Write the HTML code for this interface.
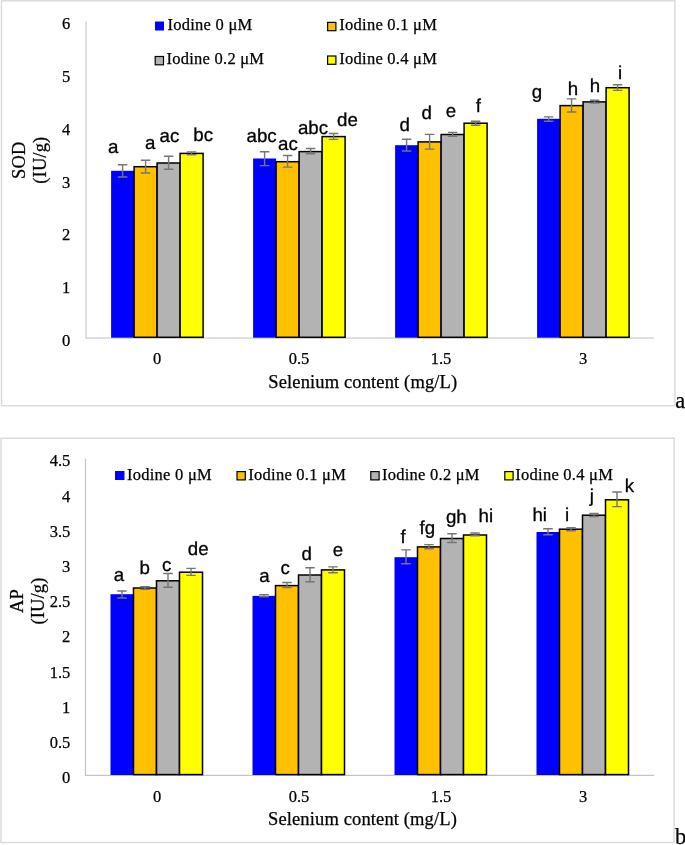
<!DOCTYPE html>
<html><head><meta charset="utf-8"><style>
html,body{margin:0;padding:0;background:#fff;width:685px;height:845px;overflow:hidden}
svg{display:block;will-change:transform}
.tk{font-family:"Liberation Serif", serif;font-size:16.5px;fill:#000;stroke:#000;stroke-width:0.25px}
.lg{font-family:"Liberation Serif", serif;font-size:16.5px;fill:#000;letter-spacing:0.25px;stroke:#000;stroke-width:0.25px}
.ti{font-family:"Liberation Serif", serif;font-size:18.5px;fill:#000;letter-spacing:0.13px;stroke:#000;stroke-width:0.25px}
.cl{font-family:"Liberation Serif", serif;font-size:22.5px;fill:#000;stroke:#000;stroke-width:0.25px}
.lb{font-family:"Liberation Sans", sans-serif;font-size:18.7px;fill:#000;stroke:#000;stroke-width:0.3px;text-rendering:geometricPrecision}
</style></head><body>
<svg width="685" height="845" viewBox="0 0 685 845">
<rect x="1.5" y="0.8" width="673.4" height="404.9" fill="#fff" stroke="#d9d9d9" stroke-width="1.4"/>
<rect x="1.0" y="438.2" width="673.1" height="404.3" fill="#fff" stroke="#d9d9d9" stroke-width="1.4"/>
<path d="M86.1 21.5V338.2H654" stroke="#dcdcdc" stroke-width="1.8" fill="none"/>
<text x="70.3" y="346.1" text-anchor="end" class="tk">0</text>
<text x="70.3" y="293.3" text-anchor="end" class="tk">1</text>
<text x="70.3" y="240.4" text-anchor="end" class="tk">2</text>
<text x="70.3" y="187.6" text-anchor="end" class="tk">3</text>
<text x="70.3" y="134.8" text-anchor="end" class="tk">4</text>
<text x="70.3" y="82.0" text-anchor="end" class="tk">5</text>
<text x="70.3" y="29.1" text-anchor="end" class="tk">6</text>
<text x="157" y="363.6" text-anchor="middle" class="tk">0</text>
<text x="299" y="363.6" text-anchor="middle" class="tk">0.5</text>
<text x="441" y="363.6" text-anchor="middle" class="tk">1.5</text>
<text x="583" y="363.6" text-anchor="middle" class="tk">3</text>
<rect x="111.10" y="170.8" width="23" height="166.90" fill="#0000ff"/>
<rect x="134.10" y="166.7" width="23" height="170.60" fill="#ffc000" stroke="#000" stroke-width="1.5"/>
<rect x="157.10" y="163.0" width="23" height="174.30" fill="#b3b3b3" stroke="#000" stroke-width="1.5"/>
<rect x="180.10" y="153.4" width="23" height="183.90" fill="#ffff00" stroke="#000" stroke-width="1.5"/>
<rect x="253.10" y="158.5" width="23" height="179.20" fill="#0000ff"/>
<rect x="276.10" y="161.7" width="23" height="175.60" fill="#ffc000" stroke="#000" stroke-width="1.5"/>
<rect x="299.10" y="151.6" width="23" height="185.70" fill="#b3b3b3" stroke="#000" stroke-width="1.5"/>
<rect x="322.10" y="136.6" width="23" height="200.70" fill="#ffff00" stroke="#000" stroke-width="1.5"/>
<rect x="395.10" y="145.2" width="23" height="192.50" fill="#0000ff"/>
<rect x="418.10" y="141.9" width="23" height="195.40" fill="#ffc000" stroke="#000" stroke-width="1.5"/>
<rect x="441.10" y="134.5" width="23" height="202.80" fill="#b3b3b3" stroke="#000" stroke-width="1.5"/>
<rect x="464.10" y="123.2" width="23" height="214.10" fill="#ffff00" stroke="#000" stroke-width="1.5"/>
<rect x="537.10" y="118.8" width="23" height="218.90" fill="#0000ff"/>
<rect x="560.10" y="105.6" width="23" height="231.70" fill="#ffc000" stroke="#000" stroke-width="1.5"/>
<rect x="583.10" y="101.9" width="23" height="235.40" fill="#b3b3b3" stroke="#000" stroke-width="1.5"/>
<rect x="606.10" y="87.7" width="23" height="249.60" fill="#ffff00" stroke="#000" stroke-width="1.5"/>
<path d="M122.60 164.7V177.0M117.85 164.7H127.35M117.85 177.0H127.35" stroke="#767676" stroke-width="1.4" fill="none"/>
<path d="M145.60 160.25V173.0M140.85 160.25H150.35M140.85 173.0H150.35" stroke="#767676" stroke-width="1.4" fill="none"/>
<path d="M168.60 156.3V169.2M163.85 156.3H173.35M163.85 169.2H173.35" stroke="#767676" stroke-width="1.4" fill="none"/>
<path d="M191.60 151.9V154.8M186.85 151.9H196.35M186.85 154.8H196.35" stroke="#767676" stroke-width="1.4" fill="none"/>
<path d="M264.60 151.7V165.6M259.85 151.7H269.35M259.85 165.6H269.35" stroke="#767676" stroke-width="1.4" fill="none"/>
<path d="M287.60 155.5V167.1M282.85 155.5H292.35M282.85 167.1H292.35" stroke="#767676" stroke-width="1.4" fill="none"/>
<path d="M310.60 148.5V153.8M305.85 148.5H315.35M305.85 153.8H315.35" stroke="#767676" stroke-width="1.4" fill="none"/>
<path d="M333.60 133.5V139.4M328.85 133.5H338.35M328.85 139.4H338.35" stroke="#767676" stroke-width="1.4" fill="none"/>
<path d="M406.60 139.3V151.0M401.85 139.3H411.35M401.85 151.0H411.35" stroke="#767676" stroke-width="1.4" fill="none"/>
<path d="M429.60 134.4V149.1M424.85 134.4H434.35M424.85 149.1H434.35" stroke="#767676" stroke-width="1.4" fill="none"/>
<path d="M452.60 132.4V136.2M447.85 132.4H457.35M447.85 136.2H457.35" stroke="#767676" stroke-width="1.4" fill="none"/>
<path d="M475.60 121.3V125.3M470.85 121.3H480.35M470.85 125.3H480.35" stroke="#767676" stroke-width="1.4" fill="none"/>
<path d="M548.60 116.9V121.2M543.85 116.9H553.35M543.85 121.2H553.35" stroke="#767676" stroke-width="1.4" fill="none"/>
<path d="M571.60 98.9V112.0M566.85 98.9H576.35M566.85 112.0H576.35" stroke="#767676" stroke-width="1.4" fill="none"/>
<path d="M594.60 100.3V103.1M589.85 100.3H599.35M589.85 103.1H599.35" stroke="#767676" stroke-width="1.4" fill="none"/>
<path d="M617.60 84.8V90.4M612.85 84.8H622.35M612.85 90.4H622.35" stroke="#767676" stroke-width="1.4" fill="none"/>
<text transform="translate(113.2 152.7)" text-anchor="middle" class="lb">a</text>
<text transform="translate(150.2 148.7)" text-anchor="middle" class="lb">a</text>
<text transform="translate(169.4 141.5)" text-anchor="middle" class="lb">ac</text>
<text transform="translate(203.2 140.7)" text-anchor="middle" class="lb">bc</text>
<text transform="translate(261.6 142.2)" text-anchor="middle" class="lb">abc</text>
<text transform="translate(287.9 149.6)" text-anchor="middle" class="lb">ac</text>
<text transform="translate(313.0 134.3)" text-anchor="middle" class="lb">abc</text>
<text transform="translate(347.5 126.0)" text-anchor="middle" class="lb">de</text>
<text transform="translate(404.6 130.7)" text-anchor="middle" class="lb">d</text>
<text transform="translate(426.6 118.9)" text-anchor="middle" class="lb">d</text>
<text transform="translate(450.9 116.5)" text-anchor="middle" class="lb">e</text>
<text transform="translate(478.3 111.7)" text-anchor="middle" class="lb">f</text>
<text transform="translate(537.0 98.0)" text-anchor="middle" class="lb">g</text>
<text transform="translate(573.0 94.7)" text-anchor="middle" class="lb">h</text>
<text transform="translate(595.0 91.7)" text-anchor="middle" class="lb">h</text>
<text transform="translate(620.0 78.6)" text-anchor="middle" class="lb">i</text>
<text x="362.8" y="387.8" text-anchor="middle" class="ti">Selenium content (mg/L)</text>
<text transform="translate(25.2 160.2) rotate(-90)" text-anchor="middle" class="ti">SOD</text>
<text transform="translate(45.6 160.2) rotate(-90)" text-anchor="middle" class="ti">(IU/g)</text>
<rect x="155" y="21.5" width="9" height="9" fill="#0000ff"/>
<text x="167.5" y="30" class="lg">Iodine 0 μM</text>
<rect x="327.6" y="22.400000000000002" width="8.3" height="8.3" fill="#ffc000" stroke="#000" stroke-width="1.2"/>
<text x="339.3" y="30" class="lg">Iodine 0.1 μM</text>
<rect x="155.2" y="56.5" width="8.3" height="8.3" fill="#b3b3b3" stroke="#000" stroke-width="1.2"/>
<text x="166.5" y="64.3" class="lg">Iodine 0.2 μM</text>
<rect x="327.6" y="56.0" width="8.3" height="8.3" fill="#ffff00" stroke="#000" stroke-width="1.2"/>
<text x="339.3" y="64.3" class="lg">Iodine 0.4 μM</text>
<text x="675.3" y="407.6" class="cl">a</text>
<path d="M85.5 458.7V775.4H654" stroke="#c4c4c4" stroke-width="1.2" fill="none"/>
<text x="70.3" y="783.1" text-anchor="end" class="tk">0</text>
<text x="70.3" y="747.9" text-anchor="end" class="tk">0.5</text>
<text x="70.3" y="712.7" text-anchor="end" class="tk">1</text>
<text x="70.3" y="677.5" text-anchor="end" class="tk">1.5</text>
<text x="70.3" y="642.3" text-anchor="end" class="tk">2</text>
<text x="70.3" y="607.2" text-anchor="end" class="tk">2.5</text>
<text x="70.3" y="572.0" text-anchor="end" class="tk">3</text>
<text x="70.3" y="536.8" text-anchor="end" class="tk">3.5</text>
<text x="70.3" y="501.6" text-anchor="end" class="tk">4</text>
<text x="70.3" y="466.4" text-anchor="end" class="tk">4.5</text>
<text x="157" y="801.5" text-anchor="middle" class="tk">0</text>
<text x="299" y="801.5" text-anchor="middle" class="tk">0.5</text>
<text x="441" y="801.5" text-anchor="middle" class="tk">1.5</text>
<text x="583" y="801.5" text-anchor="middle" class="tk">3</text>
<rect x="110.50" y="594.2" width="23" height="180.80" fill="#0000ff"/>
<rect x="133.50" y="588.0" width="23" height="186.60" fill="#ffc000" stroke="#000" stroke-width="1.5"/>
<rect x="156.50" y="580.8" width="23" height="193.80" fill="#b3b3b3" stroke="#000" stroke-width="1.5"/>
<rect x="179.50" y="572.2" width="23" height="202.40" fill="#ffff00" stroke="#000" stroke-width="1.5"/>
<rect x="252.50" y="595.9" width="23" height="179.10" fill="#0000ff"/>
<rect x="275.50" y="585.6" width="23" height="189.00" fill="#ffc000" stroke="#000" stroke-width="1.5"/>
<rect x="298.50" y="575.0" width="23" height="199.60" fill="#b3b3b3" stroke="#000" stroke-width="1.5"/>
<rect x="321.50" y="569.9" width="23" height="204.70" fill="#ffff00" stroke="#000" stroke-width="1.5"/>
<rect x="394.50" y="557.2" width="23" height="217.80" fill="#0000ff"/>
<rect x="417.50" y="546.9" width="23" height="227.70" fill="#ffc000" stroke="#000" stroke-width="1.5"/>
<rect x="440.50" y="538.5" width="23" height="236.10" fill="#b3b3b3" stroke="#000" stroke-width="1.5"/>
<rect x="463.50" y="535.0" width="23" height="239.60" fill="#ffff00" stroke="#000" stroke-width="1.5"/>
<rect x="536.50" y="532.0" width="23" height="243.00" fill="#0000ff"/>
<rect x="559.50" y="529.2" width="23" height="245.40" fill="#ffc000" stroke="#000" stroke-width="1.5"/>
<rect x="582.50" y="515.2" width="23" height="259.40" fill="#b3b3b3" stroke="#000" stroke-width="1.5"/>
<rect x="605.50" y="499.8" width="23" height="274.80" fill="#ffff00" stroke="#000" stroke-width="1.5"/>
<path d="M122.00 591.0V598.0M117.25 591.0H126.75M117.25 598.0H126.75" stroke="#767676" stroke-width="1.4" fill="none"/>
<path d="M145.00 586.8V589.4M140.25 586.8H149.75M140.25 589.4H149.75" stroke="#767676" stroke-width="1.4" fill="none"/>
<path d="M168.00 573.5V587.2M163.25 573.5H172.75M163.25 587.2H172.75" stroke="#767676" stroke-width="1.4" fill="none"/>
<path d="M191.00 568.4V575.4M186.25 568.4H195.75M186.25 575.4H195.75" stroke="#767676" stroke-width="1.4" fill="none"/>
<path d="M264.00 594.7V596.7M259.25 594.7H268.75M259.25 596.7H268.75" stroke="#767676" stroke-width="1.4" fill="none"/>
<path d="M287.00 582.5V587.6M282.25 582.5H291.75M282.25 587.6H291.75" stroke="#767676" stroke-width="1.4" fill="none"/>
<path d="M310.00 567.7V581.7M305.25 567.7H314.75M305.25 581.7H314.75" stroke="#767676" stroke-width="1.4" fill="none"/>
<path d="M333.00 566.9V572.7M328.25 566.9H337.75M328.25 572.7H337.75" stroke="#767676" stroke-width="1.4" fill="none"/>
<path d="M406.00 549.9V563.8M401.25 549.9H410.75M401.25 563.8H410.75" stroke="#767676" stroke-width="1.4" fill="none"/>
<path d="M429.00 544.6V548.7M424.25 544.6H433.75M424.25 548.7H433.75" stroke="#767676" stroke-width="1.4" fill="none"/>
<path d="M452.00 533.7V542.5M447.25 533.7H456.75M447.25 542.5H456.75" stroke="#767676" stroke-width="1.4" fill="none"/>
<path d="M475.00 533.0V535.8M470.25 533.0H479.75M470.25 535.8H479.75" stroke="#767676" stroke-width="1.4" fill="none"/>
<path d="M548.00 528.7V534.7M543.25 528.7H552.75M543.25 534.7H552.75" stroke="#767676" stroke-width="1.4" fill="none"/>
<path d="M571.00 527.7V530.7M566.25 527.7H575.75M566.25 530.7H575.75" stroke="#767676" stroke-width="1.4" fill="none"/>
<path d="M594.00 513.4V516.5M589.25 513.4H598.75M589.25 516.5H598.75" stroke="#767676" stroke-width="1.4" fill="none"/>
<path d="M617.00 492.0V506.6M612.25 492.0H621.75M612.25 506.6H621.75" stroke="#767676" stroke-width="1.4" fill="none"/>
<text transform="translate(119.0 580.5)" text-anchor="middle" class="lb">a</text>
<text transform="translate(144.7 573.7)" text-anchor="middle" class="lb">b</text>
<text transform="translate(166.6 570.6)" text-anchor="middle" class="lb">c</text>
<text transform="translate(198.2 554.9)" text-anchor="middle" class="lb">de</text>
<text transform="translate(264.4 581.7)" text-anchor="middle" class="lb">a</text>
<text transform="translate(285.1 574.3)" text-anchor="middle" class="lb">c</text>
<text transform="translate(306.6 559.9)" text-anchor="middle" class="lb">d</text>
<text transform="translate(337.9 556.3)" text-anchor="middle" class="lb">e</text>
<text transform="translate(403.2 542.7)" text-anchor="middle" class="lb">f</text>
<text transform="translate(427.4 533.9)" text-anchor="middle" class="lb">fg</text>
<text transform="translate(456.3 523.0)" text-anchor="middle" class="lb">gh</text>
<text transform="translate(485.8 521.6)" text-anchor="middle" class="lb">hi</text>
<text transform="translate(539.7 520.8)" text-anchor="middle" class="lb">hi</text>
<text transform="translate(567.1 520.8)" text-anchor="middle" class="lb">i</text>
<text transform="translate(591.8 502.0)" text-anchor="middle" class="lb">j</text>
<text transform="translate(629.5 491.5)" text-anchor="middle" class="lb">k</text>
<text x="362.5" y="824.6" text-anchor="middle" class="ti">Selenium content (mg/L)</text>
<text transform="translate(22.6 601) rotate(-90)" text-anchor="middle" class="ti">AP</text>
<text transform="translate(43.5 601) rotate(-90)" text-anchor="middle" class="ti">(IU/g)</text>
<rect x="115" y="471" width="9.5" height="9" fill="#0000ff"/>
<text x="127" y="479.8" class="lg">Iodine 0 μM</text>
<rect x="237.0" y="471.6" width="8.3" height="8.3" fill="#ffc000" stroke="#000" stroke-width="1.2"/>
<text x="248.3" y="479.8" class="lg">Iodine 0.1 μM</text>
<rect x="370.8" y="471.6" width="8.3" height="8.3" fill="#b3b3b3" stroke="#000" stroke-width="1.2"/>
<text x="382" y="479.8" class="lg">Iodine 0.2 μM</text>
<rect x="504.8" y="471.6" width="8.3" height="8.3" fill="#ffff00" stroke="#000" stroke-width="1.2"/>
<text x="515.3" y="479.8" class="lg">Iodine 0.4 μM</text>
<text x="675" y="844" class="cl">b</text>
</svg>
</body></html>
